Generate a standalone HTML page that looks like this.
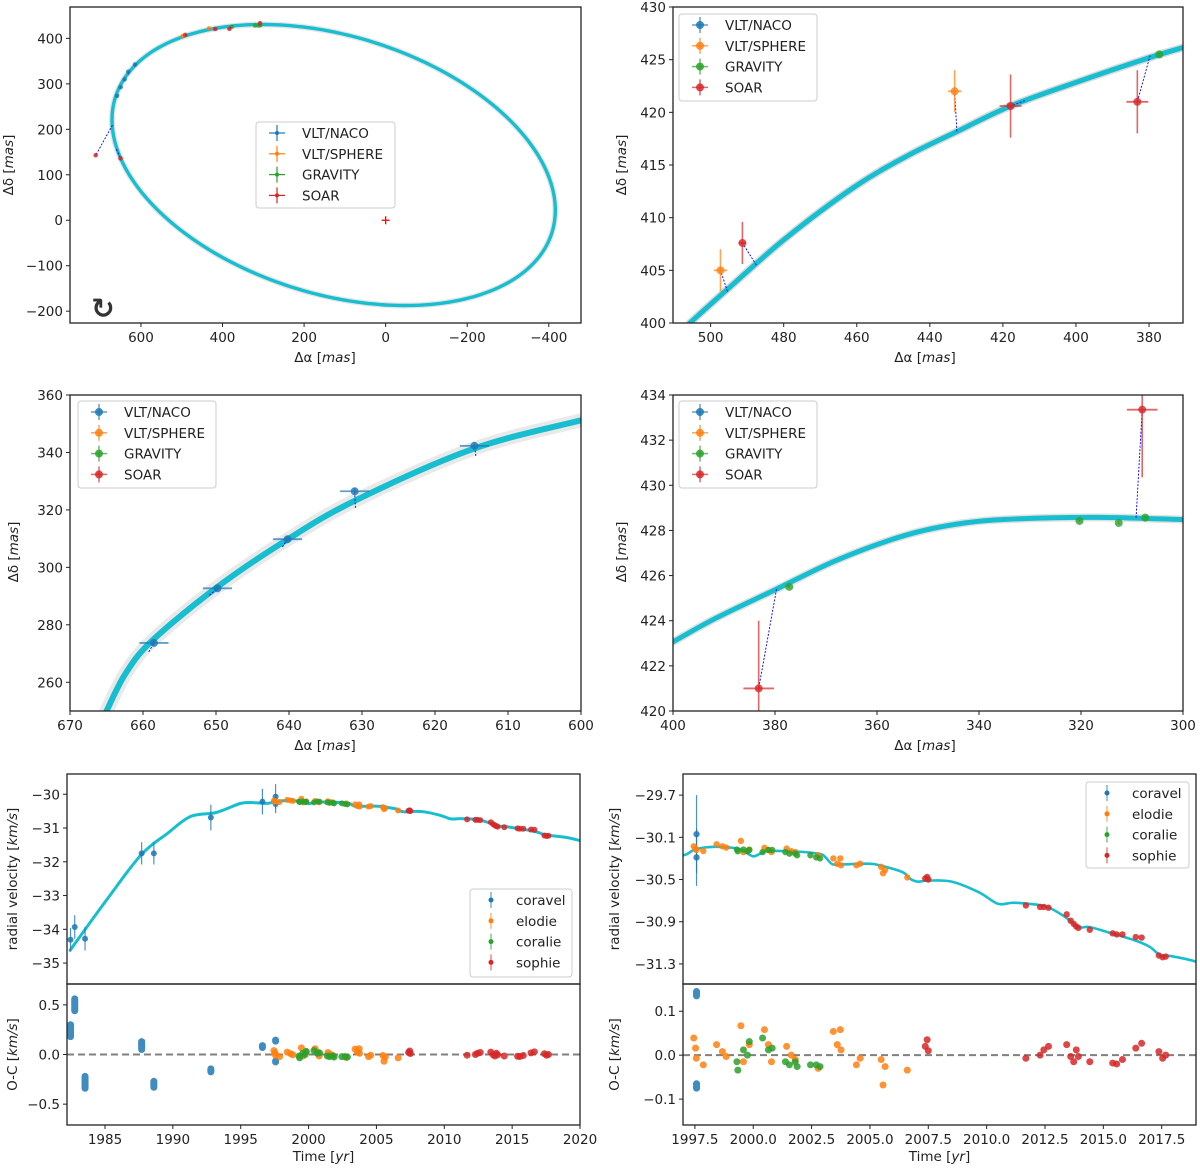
<!DOCTYPE html>
<html><head><meta charset="utf-8">
<style>
html,body{margin:0;padding:0;background:#fff;width:1200px;height:1169px;overflow:hidden;position:relative;}
svg{display:block;position:absolute;left:0;top:0;overflow:hidden;font-family:"DejaVu Sans","Liberation Sans",sans-serif;}
</style></head>
<body>
<svg id="fig" width="1200" height="1169" viewBox="0 0 1200 1169" xmlns="http://www.w3.org/2000/svg"></svg>
<script>
// ---------------- DATA ----------------
const nacoA=[658.5,649.8,640.2,631.0,614.6];
const nacoD=[273.7,292.7,309.8,326.5,342.3];
const nacoEA=[2,2,2,2,2];
const nacoED=[1,1,1,1.2,1.2];
const nacoMA=[659.2,650.9,640.9,630.9,614.4];
const nacoMD=[270.6,290.3,307.1,320.7,338.8];
const sphereA=[497.3,433.2];
const sphereD=[405.0,422.0];
const sphereEA=[1.8,1.8];
const sphereED=[2,2];
const sphereMA=[495.4,432.6];
const sphereMD=[403.0,418.2];
const gravA=[377.2,320.3,312.6,307.4];
const gravD=[425.5,428.42,428.33,428.57];
const gravEA=[0.05,0.05,0.05,0.05];
const gravED=[0.05,0.05,0.05,0.05];
const gravMA=[377.2,320.3,312.6,307.4];
const gravMD=[425.5,428.42,428.33,428.57];
const soarA=[491.3,417.9,383.2,308.0,711,650];
const soarD=[407.6,420.6,421.0,433.35,143,136];
const soarEA=[1,3,3,3,3,3];
const soarED=[2,3,3,3,3,3];
const soarMA=[487.5,414.0,379.7,309.2,670,660];
const soarMD=[405.5,421.1,425.4,428.57,209,156];
// Full orbit ellipse parameters (mas)
const orbitCenter=[127.5,121.5];
const orbitVecA=[543.5,99.4];
const orbitVecB=[0,292.6];
const p2CurveA=[505.7,495.4,479.6,460.7,446,432.4,417.9,398.7,379.8,370.2];
const p2CurveD=[400,403.2,408.0,412.9,415.9,418.2,420.6,423.0,425.2,426.2];
const p3CurveA=[665.0,662.4,658.7,649.8,640.4,630.9,614.7,600];
const p3CurveD=[250.0,263.0,274.6,293.2,309.4,323.3,341.3,351.2];
const p4CurveA=[400,391.7,379.7,367.7,354.2,342.9,331.7,316.7,300];
const p4CurveD=[423.06,424.1,425.4,426.7,427.8,428.33,428.52,428.58,428.48];

const modelT=[1982.43,1985.1,1987.65,1989.6,1991.3,1993.2,1995.0,1996.0,1996.99,1997.53,1998.35,1999.34,1999.66,2000.0,2000.3,2000.6,2001.6,2002.8,2003.1,2003.4,2003.9,2004.9,2005.4,2006.4,2006.7,2007.04,2007.5,2008.5,2009.66,2010.48,2011.1,2011.8,2012.6,2013.4,2013.93,2014.4,2015.2,2016.4,2017.0,2017.45,2017.86,2018.97,2020.0];
const modelRV=[-34.62,-33.14,-31.80,-31.16,-30.66,-30.54,-30.27,-30.25,-30.27,-30.213,-30.19,-30.207,-30.24,-30.28,-30.255,-30.232,-30.232,-30.255,-30.29,-30.356,-30.356,-30.35,-30.365,-30.43,-30.49,-30.52,-30.51,-30.52,-30.62,-30.73,-30.72,-30.73,-30.76,-30.86,-30.95,-30.95,-31.0,-31.08,-31.14,-31.22,-31.224,-31.278,-31.37];
const coravelT=[1982.46,1982.77,1983.53,1987.7,1988.6,1992.8,1996.6,1997.57,1997.57];
const coravelRV=[-34.31,-33.93,-34.28,-31.75,-31.75,-30.69,-30.22,-30.07,-30.29];
const coravelErr=[0.35,0.35,0.35,0.33,0.33,0.38,0.38,0.37,0.27];
const coravelOC=[0.24,0.5,-0.28,0.09,-0.3,-0.16,0.08,0.14,-0.07];
const coravelSpread=[0.12,0.12,0.12,0.08,0.06,0.03,0.02,0.01,0.01];
const elodieT=[1997.45,1997.53,1997.56,1997.86,1998.43,1998.68,1998.84,1999.47,1999.58,1999.83,2000.48,2000.65,2000.78,2001.43,2001.63,2001.8,2002.78,2003.43,2003.6,2003.73,2003.76,2004.42,2004.58,2005.48,2005.56,2005.65,2006.6];
const elodieRV=[-30.185,-30.207,-30.22,-30.23,-30.166,-30.185,-30.197,-30.134,-30.24,-30.216,-30.2,-30.22,-30.24,-30.207,-30.232,-30.24,-30.27,-30.3,-30.35,-30.3,-30.365,-30.365,-30.35,-30.38,-30.44,-30.41,-30.48];
const elodieOC=[0.039,0.016,-0.007,-0.022,0.024,0.008,-0.003,0.067,-0.015,0.024,0.058,0.024,-0.015,0.02,0.0,-0.01,-0.03,0.054,0.024,0.058,0.012,-0.022,-0.007,-0.01,-0.068,-0.026,-0.034];
const coralieT=[1999.3,1999.34,1999.58,1999.75,1999.83,2000.4,2000.65,2000.81,2001.38,2001.55,2001.8,2001.88,2002.45,2002.7,2002.86];
const coralieRV=[-30.216,-30.232,-30.216,-30.232,-30.22,-30.24,-30.22,-30.22,-30.24,-30.255,-30.255,-30.27,-30.27,-30.29,-30.3];
const coralieOC=[-0.015,-0.034,0.012,0.0,0.031,0.039,0.012,0.016,-0.015,-0.022,-0.015,-0.026,-0.022,-0.022,-0.026];
const sophieT=[2007.37,2007.45,2007.5,2011.68,2012.29,2012.45,2012.65,2013.43,2013.6,2013.73,2013.84,2013.93,2014.42,2015.4,2015.57,2015.82,2016.39,2016.64,2017.38,2017.54,2017.67];
const sophieRV=[-30.49,-30.476,-30.5,-30.745,-30.76,-30.76,-30.767,-30.83,-30.89,-30.92,-30.945,-30.958,-30.976,-31.01,-31.02,-31.02,-31.045,-31.05,-31.22,-31.236,-31.23];
const sophieOC=[0.02,0.035,0.01,-0.007,0.0,0.012,0.02,0.024,-0.003,-0.015,0.012,-0.003,-0.015,-0.018,-0.02,-0.01,0.016,0.027,0.008,-0.007,0.0];

const p1XTicks=[600,400,200,0,-200,-400];
const p1XLabels=['600','400','200','0','\u2212200','\u2212400'];
const p1YTicks=[400,300,200,100,0,-100,-200];
const p1YLabels=['400','300','200','100','0','\u2212100','\u2212200'];
const p2XTicks=[500,480,460,440,420,400,380];
const p2XLabels=['500','480','460','440','420','400','380'];
const p2YTicks=[400,405,410,415,420,425,430];
const p2YLabels=['400','405','410','415','420','425','430'];
const p3XTicks=[670,660,650,640,630,620,610,600];
const p3XLabels=['670','660','650','640','630','620','610','600'];
const p3YTicks=[260,280,300,320,340,360];
const p3YLabels=['260','280','300','320','340','360'];
const p4XTicks=[400,380,360,340,320,300];
const p4XLabels=['400','380','360','340','320','300'];
const p4YTicks=[420,422,424,426,428,430,432,434];
const p4YLabels=['420','422','424','426','428','430','432','434'];
const p5XTicks=[1985,1990,1995,2000,2005,2010,2015,2020];
const p5XLabels=['1985','1990','1995','2000','2005','2010','2015','2020'];
const p5YTicks=[-30,-31,-32,-33,-34,-35];
const p5YLabels=['\u221230','\u221231','\u221232','\u221233','\u221234','\u221235'];
const p5OTicks=[0.5,0,-0.5];
const p5OLabels=['0.5','0.0','\u22120.5'];
const p6XTicks=[1997.5,2000,2002.5,2005,2007.5,2010,2012.5,2015,2017.5];
const p6XLabels=['1997.5','2000.0','2002.5','2005.0','2007.5','2010.0','2012.5','2015.0','2017.5'];
const p6YTicks=[-29.7,-30.1,-30.5,-30.9,-31.3];
const p6YLabels=['\u221229.7','\u221230.1','\u221230.5','\u221230.9','\u221231.3'];
const p6OTicks=[0.1,0,-0.1];
const p6OLabels=['0.1','0.0','\u22120.1'];

const astroLegend=['VLT/NACO','VLT/SPHERE','GRAVITY','SOAR'];
const rvLegend=['coravel','elodie','coralie','sophie'];

// ---------------- DRAWING ----------------
const NS='http://www.w3.org/2000/svg';
const svg=document.getElementById('fig');
const C={blue:'#1f77b4',orange:'#ff7f0e',green:'#2ca02c',red:'#d62728',cyan:'#17becf'};
const instColors=[C.blue,C.orange,C.green,C.red];
let clipN=0;
function el(tag,attrs,parent){const e=document.createElementNS(NS,tag);for(const k in attrs)e.setAttribute(k,attrs[k]);(parent||svg).appendChild(e);return e;}

function makePanel(name,box,dom){
  const g=el('g',{});
  
  
  const id='clip'+(clipN++);
  const cp=el('clipPath',{id:id},g);
  el('rect',{x:box.l,y:box.t,width:box.r-box.l,height:box.b-box.t},cp);
  const inner=el('g',{'clip-path':'url(#'+id+')'},g);
  const sx=v=>box.l+(v-dom.x0)/(dom.x1-dom.x0)*(box.r-box.l);
  const sy=v=>box.b-(v-dom.y0)/(dom.y1-dom.y0)*(box.b-box.t);
  return {g,inner,sx,sy,box};
}
function frame(p){
  const r=el('rect',{x:p.box.l,y:p.box.t,width:p.box.r-p.box.l,height:p.box.b-p.box.t,fill:'none',stroke:'#222','stroke-width':1.3},p.g);
  
  
}
function xTicks(p,vals,labels){
  const g=el('g',{},p.g);
  
  
  vals.forEach((v,i)=>{const x=p.sx(v);
    el('line',{x1:x,x2:x,y1:p.box.b,y2:p.box.b+4,stroke:'#222','stroke-width':1},g);
    const t=el('text',{x:x,y:p.box.b+19,'text-anchor':'middle','font-size':13.5,fill:'#222'},g);t.textContent=labels[i];});
}
function yTicks(p,vals,labels){
  const g=el('g',{},p.g);
  
  
  vals.forEach((v,i)=>{const y=p.sy(v);
    el('line',{x1:p.box.l-4,x2:p.box.l,y1:y,y2:y,stroke:'#222','stroke-width':1},g);
    const t=el('text',{x:p.box.l-7,y:y+5,'text-anchor':'end','font-size':13.5,fill:'#222'},g);t.textContent=labels[i];});
}
function axLabel(name,x,y,main,ital,rot){
  const t=el('text',{x:x,y:y,'text-anchor':'middle','font-size':13.5,fill:'#222',transform:rot?'rotate(-90 '+x+' '+y+')':''});
  
  
  const a=el('tspan',{},t);a.textContent=main+' [';
  const b=el('tspan',{'font-style':'italic'},t);b.textContent=ital;
  const c=el('tspan',{},t);c.textContent=']';
}
function smoothPath(P){
  let d='M'+P[0][0].toFixed(2)+','+P[0][1].toFixed(2);
  for(let i=0;i<P.length-1;i++){
    const p0=P[Math.max(0,i-1)],p1=P[i],p2=P[i+1],p3=P[Math.min(P.length-1,i+2)];
    const c1=[p1[0]+(p2[0]-p0[0])/6,p1[1]+(p2[1]-p0[1])/6];
    const c2=[p2[0]-(p3[0]-p1[0])/6,p2[1]-(p3[1]-p1[1])/6];
    d+=' C'+c1[0].toFixed(2)+','+c1[1].toFixed(2)+' '+c2[0].toFixed(2)+','+c2[1].toFixed(2)+' '+p2[0].toFixed(2)+','+p2[1].toFixed(2);
  }
  return d;
}
function curve(p,xs,ys,attrs,name){
  const P=xs.map((v,i)=>[p.sx(v),p.sy(ys[i])]);
  const l=el('path',Object.assign({d:smoothPath(P),fill:'none','stroke-linejoin':'round','stroke-linecap':'round'},attrs),p.inner);
  
  
  return l;
}
function astroSet(p,A,D,EA,ED,MA,MD,color,r,name,plusStyle){
  for(let i=0;i<A.length;i++){
    const x=p.sx(A[i]),y=p.sy(D[i]);
    const g=el('g',{},p.inner);
    
    
    el('line',{x1:p.sx(MA[i]),y1:p.sy(MD[i]),x2:x,y2:y,stroke:'#0000ff','stroke-width':0.9,'stroke-dasharray':'2,1.5'},g);
    el('line',{x1:p.sx(A[i]-EA[i]),x2:p.sx(A[i]+EA[i]),y1:y,y2:y,stroke:color,'stroke-width':plusStyle?1:1.8,opacity:0.7},g);
    el('line',{x1:x,x2:x,y1:p.sy(D[i]-ED[i]),y2:p.sy(D[i]+ED[i]),stroke:color,'stroke-width':plusStyle?1:1.6,opacity:0.7},g);
    el('circle',{cx:x,cy:y,r:r,fill:color,opacity:0.8},g);
  }
}
function allAstro(p,r,plus){
  astroSet(p,nacoA,nacoD,nacoEA,nacoED,nacoMA,nacoMD,C.blue,r,'naco',plus);
  astroSet(p,sphereA,sphereD,sphereEA,sphereED,sphereMA,sphereMD,C.orange,r,'sphere',plus);
  astroSet(p,gravA,gravD,gravEA,gravED,gravMA,gravMD,C.green,r,'gravity',plus);
  astroSet(p,soarA,soarD,soarEA,soarED,soarMA,soarMD,C.red,r,'soar',plus);
}
function legend(name,x,y,w,h,labels,kind){
  const g=el('g',{});
  
  
  el('rect',{x:x,y:y,width:w,height:h,rx:3,fill:'#fff','fill-opacity':0.85,stroke:'#ccc','stroke-width':1},g);
  labels.forEach((lab,i)=>{
    const cy=y+11+i*20.8, mx=x+21;
    const e=el('g',{},g);
    
    
    const col=instColors[i];
    if(kind==='plus'){
      el('line',{x1:mx-8,x2:mx+8,y1:cy,y2:cy,stroke:col,'stroke-width':1.2},e);
      el('line',{x1:mx,x2:mx,y1:cy-8,y2:cy+8,stroke:col,'stroke-width':1.2},e);
      el('circle',{cx:mx,cy:cy,r:2,fill:col},e);
    }else if(kind==='circle'){
      el('line',{x1:mx-8,x2:mx+8,y1:cy,y2:cy,stroke:col,'stroke-width':1.5,opacity:0.7},e);
      el('line',{x1:mx,x2:mx,y1:cy-8,y2:cy+8,stroke:col,'stroke-width':1.5,opacity:0.7},e);
      el('circle',{cx:mx,cy:cy,r:4,fill:col,opacity:0.85},e);
    }else{
      el('line',{x1:mx,x2:mx,y1:cy-8,y2:cy+8,stroke:col,'stroke-width':1.2,opacity:0.7},e);
      el('circle',{cx:mx,cy:cy,r:2.5,fill:col},e);
    }
    const t=el('text',{x:x+46,y:cy+5,'font-size':13.5,fill:'#222'},e);t.textContent=lab;
  });
}

// ---- Panel 1 ----
(function(){
  const p=makePanel('orbit-full-panel',{l:70,r:581,t:7,b:323},{x0:774,x1:-479,y0:-226,y1:469});
  const xs=[],ys=[];
  for(let k=0;k<=360;k+=2){const t=k*Math.PI/180;
    xs.push(orbitCenter[0]+orbitVecA[0]*Math.cos(t)+orbitVecB[0]*Math.sin(t));
    ys.push(orbitCenter[1]+orbitVecA[1]*Math.cos(t)+orbitVecB[1]*Math.sin(t));}
  curve(p,xs,ys,{stroke:'#999','stroke-width':6,opacity:0.25},'orbit-spread');
  curve(p,xs,ys,{stroke:C.cyan,'stroke-width':3.4},'orbit-model');
  allAstro(p,2.3,true);
  const cx=p.sx(0),cy=p.sy(0);
  const s=el('g',{},p.inner);
  
  
  el('line',{x1:cx-4,x2:cx+4,y1:cy,y2:cy,stroke:'#ff0000','stroke-width':1.3},s);
  el('line',{x1:cx,x2:cx,y1:cy-4,y2:cy+4,stroke:'#ff0000','stroke-width':1.3},s);
  const rot=el('text',{x:103,y:318,'text-anchor':'middle','font-size':28,'font-weight':'bold',fill:'#333'},p.g);
  
  
  rot.textContent='\u21bb';
  frame(p);xTicks(p,p1XTicks,p1XLabels);yTicks(p,p1YTicks,p1YLabels);
  axLabel('x-axis-title',325,362,'\u0394\u03b1','mas',false);
  axLabel('y-axis-title',13,165,'\u0394\u03b4','mas',true);
  legend('legend-instruments',256,122,139,86,astroLegend,'plus');
})();

// ---- Panel 2 ----
(function(){
  const p=makePanel('orbit-zoom-top-panel',{l:673,r:1183,t:7,b:323},{x0:510.3,x1:370.7,y0:400,y1:430});
  curve(p,p2CurveA,p2CurveD,{stroke:'#999','stroke-width':8,opacity:0.35},'model-spread');
  curve(p,p2CurveA,p2CurveD,{stroke:C.cyan,'stroke-width':5},'orbit-model');
  allAstro(p,4,false);
  frame(p);xTicks(p,p2XTicks,p2XLabels);yTicks(p,p2YTicks,p2YLabels);
  axLabel('x-axis-title',925,362,'\u0394\u03b1','mas',false);
  axLabel('y-axis-title',626,165,'\u0394\u03b4','mas',true);
  legend('legend-instruments',679,14,138,87,astroLegend,'circle');
})();

// ---- Panel 3 ----
(function(){
  const p=makePanel('orbit-zoom-naco-panel',{l:70,r:581,t:395,b:711},{x0:670,x1:600,y0:250,y1:360});
  curve(p,p3CurveA,p3CurveD,{stroke:'#999','stroke-width':14,opacity:0.22},'model-spread');
  curve(p,p3CurveA,p3CurveD,{stroke:C.cyan,'stroke-width':6},'orbit-model');
  allAstro(p,4,false);
  frame(p);xTicks(p,p3XTicks,p3XLabels);yTicks(p,p3YTicks,p3YLabels);
  axLabel('x-axis-title',325,750,'\u0394\u03b1','mas',false);
  axLabel('y-axis-title',18,552,'\u0394\u03b4','mas',true);
  legend('legend-instruments',78,401,138,87,astroLegend,'circle');
})();

// ---- Panel 4 ----
(function(){
  const p=makePanel('orbit-zoom-gravity-panel',{l:673,r:1183,t:395,b:711},{x0:400,x1:300,y0:420,y1:434});
  curve(p,p4CurveA,p4CurveD,{stroke:'#999','stroke-width':8,opacity:0.3},'model-spread');
  curve(p,p4CurveA,p4CurveD,{stroke:C.cyan,'stroke-width':5},'orbit-model');
  allAstro(p,4,false);
  frame(p);xTicks(p,p4XTicks,p4XLabels);yTicks(p,p4YTicks,p4YLabels);
  axLabel('x-axis-title',925,750,'\u0394\u03b1','mas',false);
  axLabel('y-axis-title',626,552,'\u0394\u03b4','mas',true);
  legend('legend-instruments',679,401,138,87,astroLegend,'circle');
})();

// ---- RV panels ----
function rvSet(p,T,RV,ERR,color,r,name){
  for(let i=0;i<T.length;i++){
    const g=el('g',{},p.inner);
    
    
    const x=p.sx(T[i]),y=p.sy(RV[i]);
    if(ERR){el('line',{x1:x,x2:x,y1:p.sy(RV[i]-ERR[i]),y2:p.sy(RV[i]+ERR[i]),stroke:color,'stroke-width':1.2,opacity:0.8},g);}
    el('circle',{cx:x,cy:y,r:r,fill:color,opacity:0.85},g);
  }
}
function ocSet(p,T,OC,SP,color,r,name){
  for(let i=0;i<T.length;i++){
    const x=p.sx(T[i]);
    const sp=SP?SP[i]:0;
    const y1=p.sy(OC[i]+sp/2),y2=p.sy(OC[i]-sp/2);
    const e=el('rect',{x:x-r,y:y1-r,width:2*r,height:(y2-y1)+2*r,rx:r,ry:r,fill:color,opacity:0.85},p.inner);
    
    
  }
}
function rvPanels(pref,box,xr,yr,orr,xt,xl,yt,yl,ot,ol,r,legBox,ylx,modelW){
  const p=makePanel(pref+'-rv-panel',{l:box.l,r:box.r,t:box.t,b:box.m},{x0:xr[0],x1:xr[1],y0:yr[0],y1:yr[1]});
  curve(p,modelT,modelRV,{stroke:C.cyan,'stroke-width':modelW},'rv-model');
  rvSet(p,coravelT,coravelRV,coravelErr,C.blue,r,'coravel');
  rvSet(p,elodieT,elodieRV,null,C.orange,r,'elodie');
  rvSet(p,coralieT,coralieRV,null,C.green,r,'coralie');
  rvSet(p,sophieT,sophieRV,null,C.red,r,'sophie');
  frame(p);yTicks(p,yt,yl);
  const q=makePanel(pref+'-residual-panel',{l:box.l,r:box.r,t:box.m,b:box.b},{x0:xr[0],x1:xr[1],y0:orr[0],y1:orr[1]});
  const z=el('line',{x1:box.l,x2:box.r,y1:q.sy(0),y2:q.sy(0),stroke:'#808080','stroke-width':2,'stroke-dasharray':'7,4'},q.inner);
  
  
  ocSet(q,coravelT,coravelOC,coravelSpread,C.blue,3.5,'coravel');
  ocSet(q,elodieT,elodieOC,null,C.orange,3.5,'elodie');
  ocSet(q,coralieT,coralieOC,null,C.green,3.5,'coralie');
  ocSet(q,sophieT,sophieOC,null,C.red,3.5,'sophie');
  frame(q);xTicks(q,xt,xl);yTicks(q,ot,ol);
  axLabel('y-axis-title',ylx,(box.t+box.m)/2,'radial velocity','km/s',true);
  axLabel('residual-axis-title',ylx,(box.m+box.b)/2,'O-C','km/s',true);
  axLabel('x-axis-title',(box.l+box.r)/2,box.b+36,'Time','yr',false);
  legend('legend-rv-instruments',legBox[0],legBox[1],legBox[2],legBox[3],rvLegend,'dot');
}
rvPanels('full',{l:67,r:580,t:774,m:984,b:1125},[1982.2,2020],[-35.62,-29.4],[-0.71,0.71],
  p5XTicks,p5XLabels,p5YTicks,p5YLabels,p5OTicks,p5OLabels,3,[470,889,102,88],17,3);
rvPanels('recent',{l:683,r:1196,t:774,m:984,b:1125},[1996.99,2018.97],[-31.49,-29.5],[-0.159,0.162],
  p6XTicks,p6XLabels,p6YTicks,p6YLabels,p6OTicks,p6OLabels,3.2,[1086,782,103,86],619,2.6);
</script>
</body></html>
